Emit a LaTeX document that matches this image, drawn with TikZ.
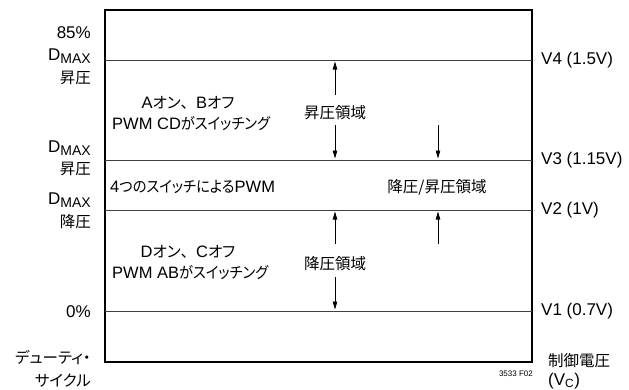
\documentclass[tikz,border=0pt]{standalone}
\usepackage{fontspec}
\setmainfont{Liberation Sans}
\newfontfamily\jpf[RawFeature=+palt]{Noto Sans CJK JP}
\newfontfamily\jpk[RawFeature=+palt,FakeStretch=0.92]{Noto Sans CJK JP}
\newfontfamily\jpw{Noto Sans CJK JP}
\newcommand\J[1]{{\jpf\fontsize{15.5}{18}\selectfont #1}}
\newcommand\K[1]{{\jpk\fontsize{15.5}{18}\selectfont #1}}
\newcommand\W[1]{{\jpw\fontsize{15.5}{18}\selectfont #1}}
\newcommand\Dmax{D\raisebox{-3pt}{\fontsize{14}{16}\selectfont MAX}}
\usetikzlibrary{arrows.meta}
\tikzset{
  lbl/.style={font=\fontsize{17}{20}\selectfont, inner sep=0pt},
  ilbl/.style={font=\fontsize{16.5}{20}\selectfont, inner sep=0pt},
  lvl/.style={draw=black!75, line width=0.8pt},
  frame/.style={draw, line width=1.4pt},
  arr/.style={-{Triangle[length=8pt,width=4.5pt]}, line width=0.7pt},
}
\begin{document}
\begin{tikzpicture}[x=1pt,y=-1pt]
\useasboundingbox (0,0) rectangle (629,389);
% frame corners
\coordinate (tl) at (105,10);
\coordinate (br) at (532,362);
\draw[frame] (tl) rectangle (br);
% level lines
\coordinate (l4a) at (105,60);  \coordinate (l4b) at (532,60);
\coordinate (l3a) at (105,160); \coordinate (l3b) at (532,160);
\coordinate (l2a) at (105,210); \coordinate (l2b) at (532,210);
\coordinate (l1a) at (105,311); \coordinate (l1b) at (532,311);
\draw[lvl] (l4a) -- (l4b);
\draw[lvl] (l3a) -- (l3b);
\draw[lvl] (l2a) -- (l2b);
\draw[lvl] (l1a) -- (l1b);
% left labels
\node[lbl, anchor=east] (p85) at (91,33) {85\%};
\node[lbl, anchor=east] (d1) at (91,56) {\Dmax};
\node[lbl, anchor=east] (s1) at (91,78) {\J{昇圧}};
\node[lbl, anchor=east] (d2) at (91,148) {\Dmax};
\node[lbl, anchor=east] (s2) at (91,169) {\J{昇圧}};
\node[lbl, anchor=east] (d3) at (91,200) {\Dmax};
\node[lbl, anchor=east] (s3) at (91,222) {\J{降圧}};
\node[lbl, anchor=east] (p0) at (91,312) {0\%};
\node[lbl, anchor=east] (du1) at (91,357) {\J{デューティ・}};
\node[lbl, anchor=east] (du2) at (91,381) {\J{サイクル}};
% right labels
\node[lbl, anchor=west] (v4) at (541,60) {V4 (1.5V)};
\node[lbl, anchor=west] (v3) at (541,160) {V3 (1.15V)};
\node[lbl, anchor=west] (v2) at (541,210) {V2 (1V)};
\node[lbl, anchor=west] (v1) at (541,311) {V1 (0.7V)};
\node[lbl, anchor=west] (cv) at (548,361) {\J{制御電圧}};
\node[lbl, anchor=west] (vc) at (548,381) {(V\textsubscript{C})};
\node[inner sep=0pt, anchor=east, font=\fontsize{8}{9}\selectfont] (fig) at (533,374) {3533 F02};
% inner texts
\node[ilbl] (t1) at (188,103) {A\J{オン}\W{、}B\J{オフ}};
\node[ilbl, anchor=west] (t2) at (112,124) {PWM CD\K{がスイッチング}};
\node[ilbl, anchor=west] (t3) at (110,187) {4\K{つのスイッチによる}PWM};
\node[ilbl] (t4) at (437,187) {\J{降圧/昇圧領域}};
\node[ilbl] (t5) at (188,252) {D\J{オン}\W{、}C\J{オフ}};
\node[ilbl, anchor=west] (t6) at (112,273) {PWM AB\K{がスイッチング}};
% region labels and arrows
\node[ilbl] (up) at (335,113) {\J{昇圧領域}};
\node[ilbl] (dn) at (335,264) {\J{降圧領域}};
\coordinate (a1s) at (335,95);  \coordinate (a1e) at (335,61.5);
\coordinate (a2s) at (335,125); \coordinate (a2e) at (335,158.5);
\coordinate (a3s) at (438,125); \coordinate (a3e) at (438,158.5);
\coordinate (a4s) at (335,244); \coordinate (a4e) at (335,211.5);
\coordinate (a5s) at (438,244); \coordinate (a5e) at (438,211.5);
\coordinate (a6s) at (335,277); \coordinate (a6e) at (335,309.5);
\draw[arr] (a1s) -- (a1e);
\draw[arr] (a2s) -- (a2e);
\draw[arr] (a3s) -- (a3e);
\draw[arr] (a4s) -- (a4e);
\draw[arr] (a5s) -- (a5e);
\draw[arr] (a6s) -- (a6e);
\end{tikzpicture}
\end{document}
